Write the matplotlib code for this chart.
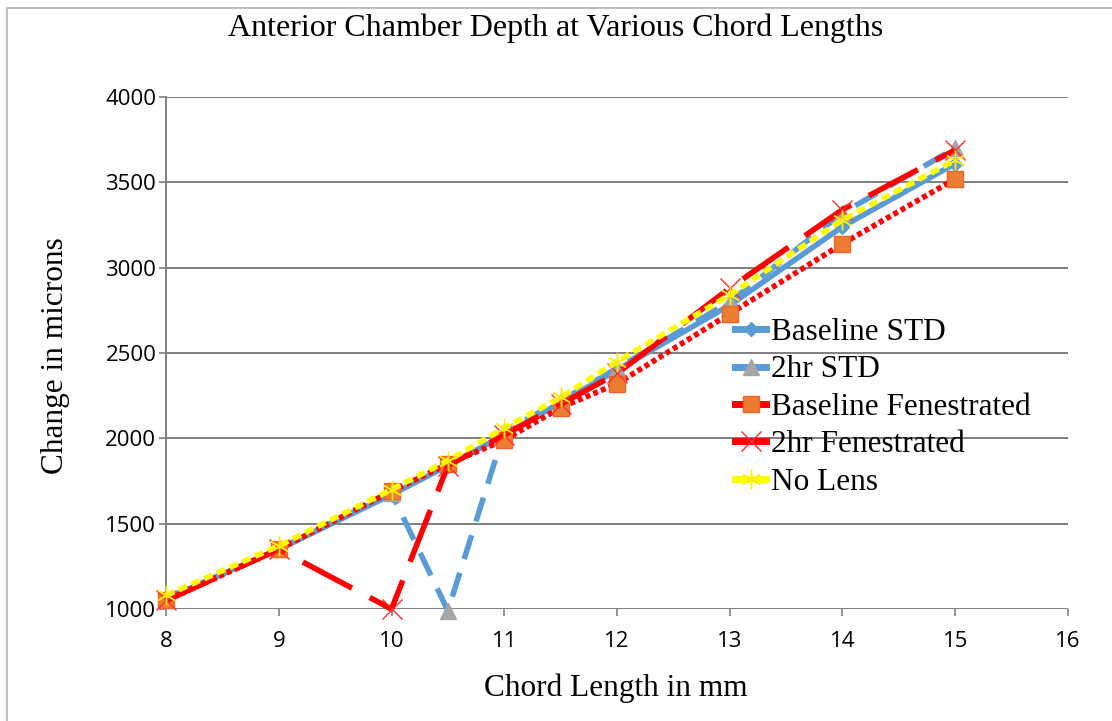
import matplotlib.pyplot as plt
from matplotlib.patches import Rectangle
from matplotlib.lines import Line2D

# chord lengths (mm)
chord = [8, 9, 10, 10.5, 11, 11.5, 12, 13, 14, 15]

# anterior chamber depth values (microns)
baselineStd = [1060, 1350, 1670, 1840, 2020, 2210, 2400, 2780, 3240, 3610]
twoHrStd = [1060, 1350, 1680, 990, 2040, 2220, 2410, 2800, 3320, 3700]
baselineFen = [1050, 1350, 1690, 1850, 1990, 2180, 2320, 2730, 3140, 3520]
twoHrFen = [1050, 1350, 1000, 1840, 2020, 2200, 2380, 2880, 3340, 3690]
noLens = [1080, 1370, 1700, 1870, 2060, 2240, 2450, 2840, 3280, 3630]

labels = ['Baseline STD', '2hr STD', 'Baseline Fenestrated', '2hr Fenestrated', 'No Lens']

serif = 'Liberation Serif'

fig = plt.figure(figsize=(11.12, 7.21), dpi=100)
ax = fig.add_axes([0.1493, 0.1553, 0.8111, 0.7102])

# light border round the whole chart
fig.patches.append(Rectangle((7 / 1112, -0.1), 1.2, 1.1 - 8 / 721, transform=fig.transFigure,
                             fill=False, edgecolor='#c0c0c0', linewidth=1.5))

lw = 4
blue = '#5b9bd5'

ax.plot(chord, baselineStd, color=blue, lw=lw, marker='D', ms=7,
        mfc=blue, mec=blue, clip_on=False, zorder=3)
ax.plot(chord, twoHrStd, color=blue, lw=lw, dashes=(4.5, 2.6), marker='^', ms=11,
        mfc='#a5a5a5', mec='#a5a5a5', clip_on=False, zorder=4)
ax.plot(chord, baselineFen, color='#ff0000', lw=lw, dashes=(0.9, 0.6), marker='s', ms=12,
        mfc='#ed7d31', mec='#f0642a', mew=1, clip_on=False, zorder=5)
ax.plot(chord, twoHrFen, color='#ff0000', lw=lw, dashes=(10, 3.6), marker='x', ms=14,
        mec='#ff3030', mew=1, clip_on=False, zorder=6)
ax.plot(chord, noLens, color='#ffff00', lw=lw, dashes=(1.6, 0.9), marker=(6, 2, 0), ms=14,
        mec='#ffee00', mew=1, clip_on=False, zorder=7)

ax.set_xlim(8, 16)
ax.set_ylim(1000, 4000)
ax.set_xticks(range(8, 17))
ax.set_yticks(range(1000, 4001, 500))
ax.yaxis.grid(True, color='#7f7f7f', linewidth=1.4)
ax.set_axisbelow(True)

for side in ['top', 'right', 'bottom']:
    ax.spines[side].set_visible(False)
ax.spines['left'].set_color('#7f7f7f')
ax.spines['left'].set_linewidth(1.4)
ax.tick_params(axis='both', colors='#7f7f7f', width=1.2, length=5, labelcolor='black',
               labelsize=16)
ax.tick_params(axis='x', pad=11)
ax.tick_params(axis='y', pad=2)
for t in ax.get_xticklabels() + ax.get_yticklabels():
    t.set_fontfamily('Open Sans')

fig.text(0.5, 1 - 28 / 721, 'Anterior Chamber Depth at Various Chord Lengths',
         ha='center', va='center', fontsize=23, family=serif)
fig.text(55 / 1112, 1 - 356 / 721, 'Change in microns', rotation=90,
         ha='center', va='center', fontsize=22.5, family=serif)
fig.text(616 / 1112, 1 - 688 / 721, 'Chord Length in mm',
         ha='center', va='center', fontsize=22.5, family=serif)

# legend handles drawn like the chart's series
handles = [
    Line2D([], [], color=blue, lw=lw + 1, marker='D', ms=7, mfc=blue, mec=blue),
    Line2D([], [], color=blue, lw=lw + 1, marker='^', ms=11, mfc='#a5a5a5', mec='#a5a5a5'),
    Line2D([], [], color='#ff0000', lw=lw + 1, marker='s', ms=12, mfc='#ed7d31', mec='#f0642a'),
    Line2D([], [], color='#ff0000', lw=lw + 1, marker='x', ms=14, mec='#ff3030', mew=1),
    Line2D([], [], color='#ffff00', lw=lw + 1, marker=(6, 2, 0), ms=14, mec='#ffee00', mew=1),
]
leg = fig.legend(handles, labels, loc='upper left', bbox_to_anchor=(735 / 1112, 1 - 318 / 721),
                 bbox_transform=fig.transFigure, frameon=False, numpoints=1,
                 prop={'family': serif, 'size': 22.5},
                 handlelength=1.0, handletextpad=0.15, labelspacing=0.27, borderpad=0,
                 borderaxespad=0)
leg.set_zorder(10)

fig.savefig('out.png', dpi=100)
